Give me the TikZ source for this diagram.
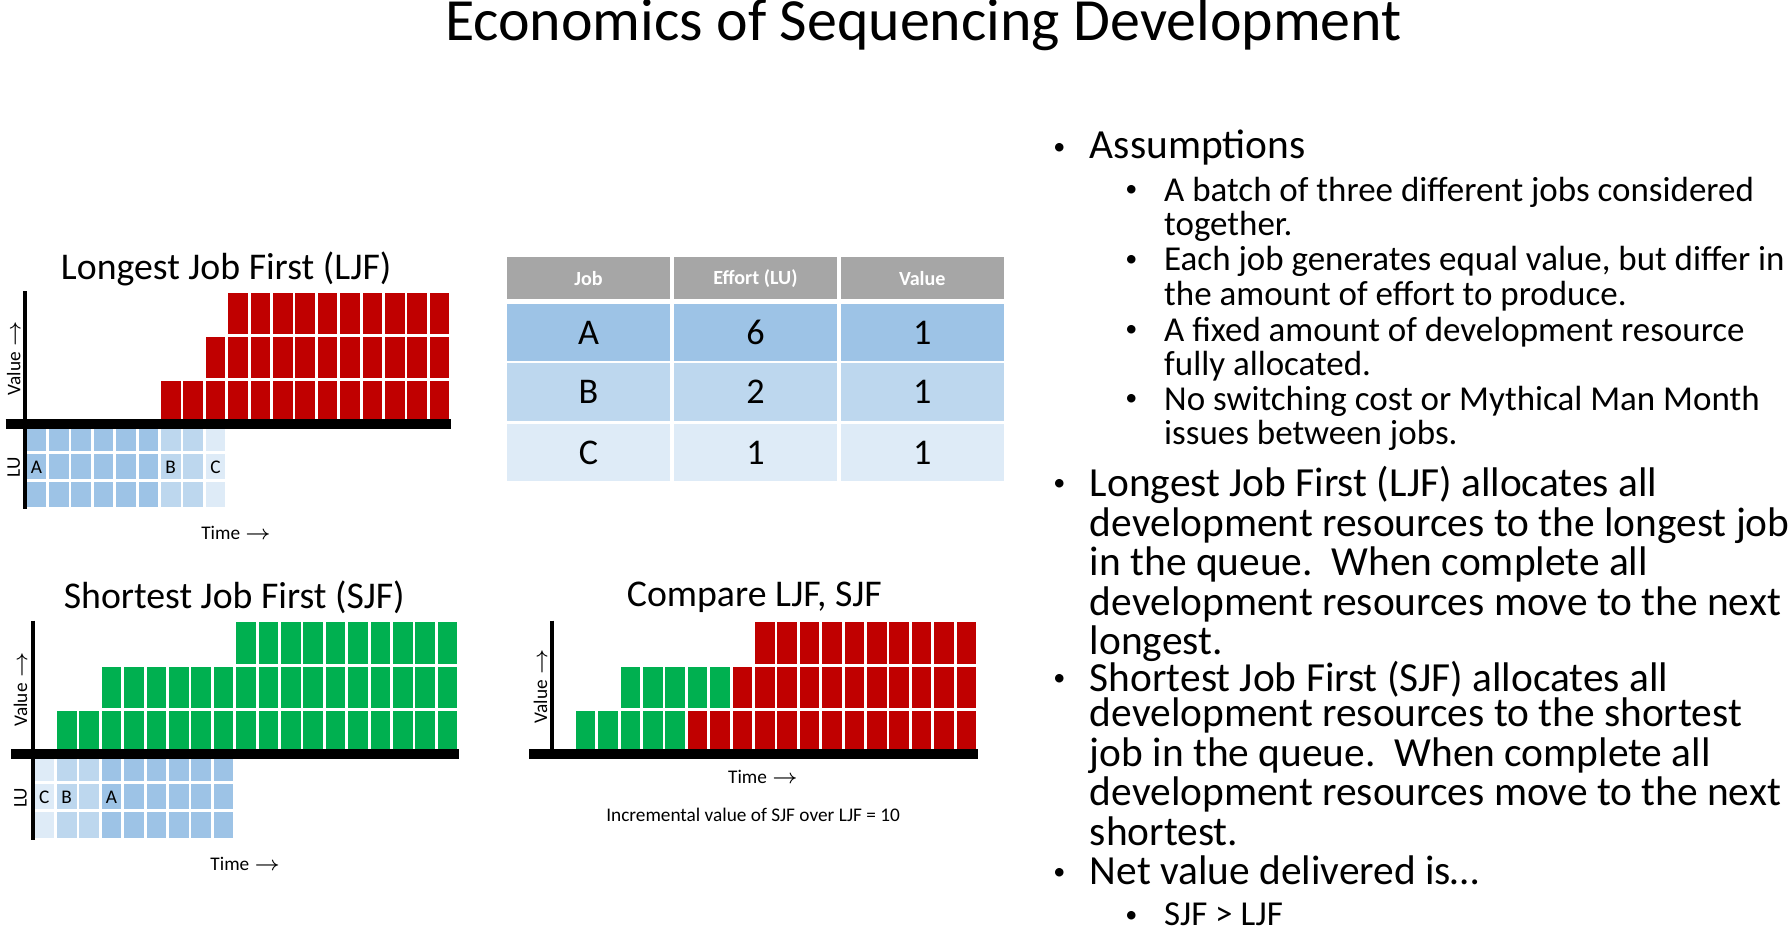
\documentclass[tikz,border=0pt]{standalone}
\usepackage{fontspec}
\setmainfont{Carlito}
\usepackage{tikz}
\usetikzlibrary{positioning}
\definecolor{ljfRed}{RGB}{192,0,0}
\definecolor{sjfGreen}{RGB}{0,176,80}
\definecolor{jobA}{RGB}{157,195,230}
\definecolor{jobB}{RGB}{189,215,238}
\definecolor{jobC}{RGB}{222,235,247}
\definecolor{headGrey}{RGB}{166,166,166}

\begin{document}
\begin{tikzpicture}[
    x=0.01cm, y=-0.01cm,
    cell/.style={draw=white, line width=0.7pt},
    axis/.style={line width=0.9pt},
    base/.style={line width=2.6pt},
    charttitle/.style={font=\fontsize{9.4pt}{10pt}\selectfont},
    small/.style={font=\fontsize{4.8pt}{5.5pt}\selectfont, inner sep=0pt},
    tcell/.style={minimum width=1.43cm, minimum height=#1, inner sep=0pt},
    lone/.style={anchor=north west, align=left, inner sep=0pt, font=\fontsize{10.3pt}{8.7pt}\selectfont},
    ltwo/.style={anchor=north west, align=left, inner sep=0pt, font=\fontsize{8.7pt}{7.25pt}\selectfont},
    dot/.style={inner sep=0pt, font=\fontsize{6pt}{6pt}\selectfont}
]
\useasboundingbox (0,0) rectangle (1568,813);

% Title
\node[font=\fontsize{14.9pt}{16pt}\selectfont] (title) at (808,22) {Economics of Sequencing Development};

% Longest Job First
\node[charttitle] (ljftitle) at (198,235) {Longest Job First (LJF)};
\foreach \c in {6,...,18} \path[cell,fill=ljfRed] (22+\c*19.6,371) rectangle ++(19.6,-38.7);
\foreach \c in {8,...,18} \path[cell,fill=ljfRed] (22+\c*19.6,332.3) rectangle ++(19.6,-38.7);
\foreach \c in {9,...,18} \path[cell,fill=ljfRed] (22+\c*19.6,293.6) rectangle ++(19.6,-38.7);
\foreach \r in {0,1,2} {
  \foreach \c in {0,...,5} \path[cell,fill=jobA] (22+\c*19.6,371+\r*24.7) rectangle ++(19.6,24.7);
  \foreach \c in {6,7} \path[cell,fill=jobB] (22+\c*19.6,371+\r*24.7) rectangle ++(19.6,24.7);
  \path[cell,fill=jobC] (22+8*19.6,371+\r*24.7) rectangle ++(19.6,24.7);
}
\node[small] (ljfa) at (31.8,409) {A};
\node[small] (ljfb) at (149.4,409) {B};
\node[small] (ljfc) at (188.6,409) {C};
\draw[axis] (22,255) -- (22,445);
\draw[base] (5,371) -- (395,371);
\node[small, rotate=90] (ljfvalue) at (12,313) {Value $\rightarrow$};
\node[small, rotate=90] (ljflu) at (12,409) {LU};
\node[small] (ljftime) at (207,466) {Time $\rightarrow$};

% Shortest Job First
\node[charttitle] (sjftitle) at (205,523) {Shortest Job First (SJF)};
\foreach \c in {1,...,18} \path[cell,fill=sjfGreen] (29+\c*19.6,660) rectangle ++(19.6,-39);
\foreach \c in {3,...,18} \path[cell,fill=sjfGreen] (29+\c*19.6,621) rectangle ++(19.6,-39);
\foreach \c in {9,...,18} \path[cell,fill=sjfGreen] (29+\c*19.6,582) rectangle ++(19.6,-39);
\foreach \r in {0,1,2} {
  \path[cell,fill=jobC] (29,660+\r*24.7) rectangle ++(19.6,24.7);
  \foreach \c in {1,2} \path[cell,fill=jobB] (29+\c*19.6,660+\r*24.7) rectangle ++(19.6,24.7);
  \foreach \c in {3,...,8} \path[cell,fill=jobA] (29+\c*19.6,660+\r*24.7) rectangle ++(19.6,24.7);
}
\node[small] (sjfc) at (38.8,698) {C};
\node[small] (sjfb) at (58.4,698) {B};
\node[small] (sjfa) at (97.6,698) {A};
\draw[axis] (29,543) -- (29,735);
\draw[base] (10,660) -- (402,660);
\node[small, rotate=90] (sjfvalue) at (18,603) {Value $\rightarrow$};
\node[small, rotate=90] (sjflu) at (18,698) {LU};
\node[small] (sjftime) at (215,756) {Time $\rightarrow$};

% Compare
\node[charttitle] (cmptitle) at (660,523) {Compare LJF, SJF};
\foreach \c in {1,...,18} {
  \ifnum\c<6 \def\fc{sjfGreen}\else\def\fc{ljfRed}\fi
  \path[cell,fill=\fc] (483+\c*19.6,660) rectangle ++(19.6,-39);
}
\foreach \c in {3,...,18} {
  \ifnum\c<8 \def\fc{sjfGreen}\else\def\fc{ljfRed}\fi
  \path[cell,fill=\fc] (483+\c*19.6,621) rectangle ++(19.6,-39);
}
\foreach \c in {9,...,18} \path[cell,fill=ljfRed] (483+\c*19.6,582) rectangle ++(19.6,-39);
\draw[axis] (483,543) -- (483,660);
\draw[base] (463,660) -- (856,660);
\node[small, rotate=90] (cmpvalue) at (473,600) {Value $\rightarrow$};
\node[small] (cmptime) at (668,680) {Time $\rightarrow$};
\node[small] (incr) at (659,713) {Incremental value of SJF over LJF = 10};

% Table
\foreach \x/\h/\k in {515/Job/1, 661/Effort (LU)/2, 807/Value/3}
  \node[tcell=0.37cm, fill=headGrey, text=white, font=\fontsize{5pt}{6pt}\selectfont\bfseries] (head\k) at (\x,243.5) {\h};
\foreach \y/\j/\e/\fc in {291/A/6/jobA, 343/B/2/jobB, 396/C/1/jobC} {
  \node[tcell=0.5cm, fill=\fc, font=\fontsize{9pt}{10pt}\selectfont] (job\j) at (515,\y) {\j};
  \node[tcell=0.5cm, fill=\fc, font=\fontsize{9pt}{10pt}\selectfont] (effort\j) at (661,\y) {\e};
  \node[tcell=0.5cm, fill=\fc, font=\fontsize{9pt}{10pt}\selectfont] (value\j) at (807,\y) {1};
}

% Bullets
\foreach \y/\name/\t in {
    113/assume/{Assumptions},
    407/ljf/{Longest Job First (LJF) allocates all\\development resources to the longest job\\in the queue.\ \ When complete all\\development resources move to the next\\longest.},
    578/sjf/{Shortest Job First (SJF) allocates all\\development resources to the shortest\\job in the queue.\ \ When complete all\\development resources move to the next\\shortest.},
    748/net/{Net value delivered is\ldots}} {
  \node[lone] (\name) at (953,\y) {\t};
  \node[dot] (\name dot) at (927,\y+17) {\textbullet};
}
\foreach \y/\name/\t in {
    154/batch/{A batch of three different jobs considered\\together.},
    215/equal/{Each job generates equal value, but differ in\\the amount of effort to produce.},
    277/fixed/{A fixed amount of development resource\\fully allocated.},
    337/switch/{No switching cost or Mythical Man Month\\issues between jobs.},
    789/result/{SJF > LJF}} {
  \node[ltwo] (\name) at (1018,\y) {\t};
  \node[dot] (\name dot) at (990,\y+13) {\textbullet};
}
\end{tikzpicture}
\end{document}
